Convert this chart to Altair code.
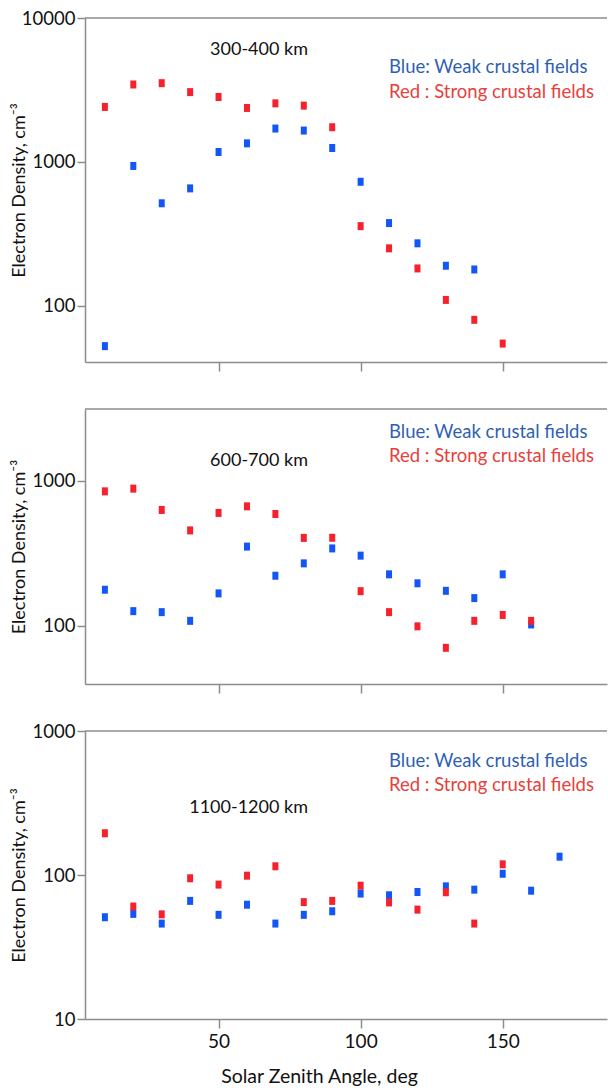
import altair as alt
import pandas as pd

# ---- data ----
sza = [10, 20, 30, 40, 50, 60, 70, 80, 90, 100, 110, 120, 130, 140, 150, 160, 170]

p1_blue = [52.5, 938, 516, 655, 1172, 1346, 1706, 1652, 1250, 728, 376, 272, 190, 179]
p1_red = [2410, 3452, 3525, 3055, 2825, 2372, 2553, 2461, 1742, 358, 251, 182, 110, 80, 54.7]

p2_blue = [177, 126, 124, 108, 167, 351, 221, 269, 341, 304, 226, 196, 174, 155, 226, 102]
p2_red = [844, 881, 628, 454, 599, 665, 589, 403, 404, 173, 124, 99, 70.4, 108, 118.6, 108]

p3_blue = [50.9, 53.7, 46.0, 66.1, 52.9, 62.2, 46.0, 52.9, 56.0, 74.3, 72.3, 76.2, 83.4, 79.1, 102, 77.8, 134]
p3_red = [195, 60.4, 53.3, 94.9, 85.8, 98.9, 115, 64.8, 66.1, 84.3, 64.5, 57.5, 75.9, 46.0, 118.6]

labels = ["300-400 km", "600-700 km", "1100-1200 km"]
legend_blue = "Blue: Weak crustal fields"
legend_red = "Red : Strong crustal fields"
x_ticks = [50, 100, 150]

FONT = "Lato"
AXIS_COL = "#8c8c8c"
BLUE_PT = "#1456f5"
RED_PT = "#f5222d"
BLUE_TXT = "#2f5fb3"
RED_TXT = "#e8403c"
RECT = "M-0.75,-1L0.75,-1L0.75,1L-0.75,1Z"

W = 522


def panel(blue, red, label, ydom, yticks, h, label_y, leg_y1, leg_y2, show_x):
    df = pd.DataFrame({
        "sza": sza[:len(blue)] + sza[:len(red)],
        "ne": blue + red,
        "grp": ["Weak"] * len(blue) + ["Strong"] * len(red),
    })
    one = pd.DataFrame({"a": [0]})
    xaxis = alt.Axis(
        values=x_ticks, labels=show_x, grid=False,
        title="Solar Zenith Angle, deg" if show_x else None,
        domainColor=AXIS_COL, domainWidth=1.5, tickColor=AXIS_COL, tickWidth=1.5,
        tickSize=9, labelFont=FONT, labelFontSize=19, labelColor="#111",
        labelPadding=4, titleFont=FONT, titleFontSize=19.5, titleColor="#111",
        titleFontWeight="normal", titleX=234, titleY=63, titleBaseline="alphabetic",
    )
    yaxis = alt.Axis(
        values=yticks, format="d", grid=False, title="Electron Density, cm⁻³",
        domainColor=AXIS_COL, domainWidth=1.5, tickColor=AXIS_COL, tickWidth=1.5,
        tickSize=8, labelFont=FONT, labelFontSize=18.5, labelColor="#111",
        labelPadding=2, titleFont=FONT, titleFontSize=18, titleColor="#111",
        titleFontWeight="normal", titleX=-61, titleY=h / 2, titleBaseline="alphabetic",
    )
    pts = alt.Chart(df).mark_point(shape=RECT, filled=True, size=64, opacity=1).encode(
        x=alt.X("sza:Q", scale=alt.Scale(domain=[3, 186.7], nice=False, zero=False), axis=xaxis),
        y=alt.Y("ne:Q", scale=alt.Scale(type="log", domain=ydom, nice=False), axis=yaxis),
        color=alt.Color("grp:N", scale=alt.Scale(domain=["Weak", "Strong"], range=[BLUE_PT, RED_PT]), legend=None),
    )
    border = alt.Chart(one).mark_rule(color=AXIS_COL, strokeWidth=1.5).encode(
        x=alt.value(0), x2=alt.value(W), y=alt.value(0)
    )
    t_label = alt.Chart(one).mark_text(text=label, align="right", baseline="alphabetic",
                                        font=FONT, fontSize=18, color="#111").encode(
        x=alt.value(223), y=alt.value(label_y))
    t_blue = alt.Chart(one).mark_text(text=legend_blue, align="left", baseline="alphabetic",
                                       font=FONT, fontSize=18.5, color=BLUE_TXT).encode(
        x=alt.value(304), y=alt.value(leg_y1))
    t_red = alt.Chart(one).mark_text(text=legend_red, align="left", baseline="alphabetic",
                                      font=FONT, fontSize=18.5, color=RED_TXT).encode(
        x=alt.value(304), y=alt.value(leg_y2))
    return alt.layer(pts, border, t_label, t_blue, t_red).properties(width=W, height=h)


c1 = panel(p1_blue, p1_red, labels[0], [10 ** 1.61, 10000], [100, 1000, 10000], 344, 37, 55, 80, False)
c2 = panel(p2_blue, p2_red, labels[1], [10 ** 1.598, 10 ** 3.494], [100, 1000], 275, 57, 29, 53, False)
c3 = panel(p3_blue, p3_red, labels[2], [10, 1000], [10, 100, 1000], 288, 82, 36, 60, True)

chart = alt.vconcat(c1, c2, c3, spacing=47, bounds="flush").properties(
    padding={"left": 9, "top": 9, "right": 0, "bottom": 0}
).configure_view(stroke=None)

chart.save("out.html", embed_options={"renderer": "svg", "actions": False})
